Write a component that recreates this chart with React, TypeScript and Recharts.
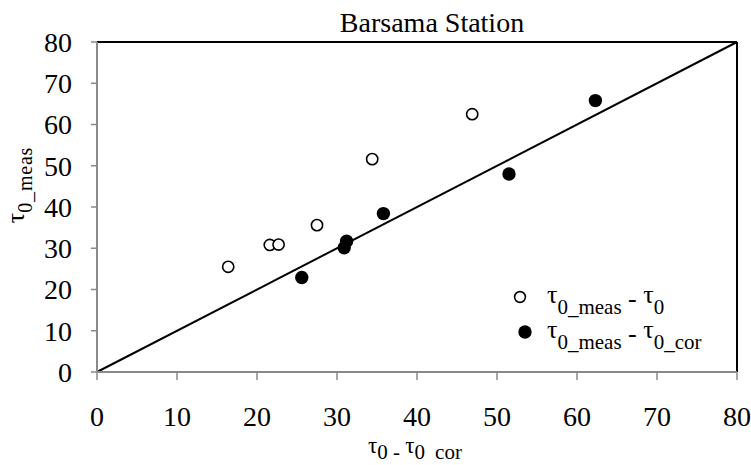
import { Legend, ReferenceLine, Scatter, ScatterChart, XAxis, YAxis } from "recharts";

const FONT = "Liberation Serif, Times New Roman, serif";
const AXIS_GREY = "#8a8a8a";

const title = "Barsama Station";
const axisTicks = [0, 10, 20, 30, 40, 50, 60, 70, 80];

// τ0_meas vs τ0 (open circles)
const measX = [16.4, 21.6, 22.7, 27.5, 34.4, 46.9];
const measY = [25.5, 30.8, 30.9, 35.6, 51.6, 62.5];

// τ0_meas vs τ0_cor (filled circles)
const corX = [25.6, 30.9, 31.2, 35.8, 51.5, 62.3];
const corY = [22.9, 30.1, 31.7, 38.4, 48.0, 65.8];

const measData = measX.map((x, i) => ({ x, y: measY[i] }));
const corData = corX.map((x, i) => ({ x, y: corY[i] }));

const OpenDot = (p: any) => (
  <circle cx={p.cx} cy={p.cy} r={5.6} fill="#fff" stroke="#000" strokeWidth={1.6} />
);
const FilledDot = (p: any) => <circle cx={p.cx} cy={p.cy} r={6.7} fill="#000" />;

const XLabel = (props: any) => {
  const vb = props.viewBox;
  const cx = vb.x + vb.width / 2 - 2;
  return (
    <text x={cx} y={vb.y + 81} textAnchor="middle" fontFamily={FONT} fontSize={23} fill="#000">
      <tspan>τ</tspan>
      <tspan dy={6} fontSize={21}>0 - </tspan>
      <tspan dy={-6}>τ</tspan>
      <tspan dy={6} fontSize={21}>0</tspan>
      <tspan dx={10} fontSize={21}>cor</tspan>
    </text>
  );
};

const YLabel = () => (
  <text
    x={24} y={185} textAnchor="middle" fontFamily={FONT} fontSize={26} fill="#000"
    transform="rotate(-90 24 185)"
  >
    <tspan>τ</tspan>
    <tspan dy={8} fontSize={20} letterSpacing={0.8}>0_meas</tspan>
  </text>
);

const LegendBox = () => (
  <svg width={250} height={80} style={{ display: "block", fontFamily: FONT }}>
    <circle cx={20} cy={17} r={5.4} fill="#fff" stroke="#000" strokeWidth={1.6} />
    <text x={47} y={23} fontFamily={FONT} fontSize={26} fill="#000">
      <tspan>τ</tspan>
      <tspan dy={11} fontSize={21}>0_meas</tspan>
      <tspan dy={-7}> - </tspan>
      <tspan dy={-4}>τ</tspan>
      <tspan dy={11} fontSize={21}>0</tspan>
    </text>
    <circle cx={25} cy={52} r={6.7} fill="#000" />
    <text x={47} y={58} fontFamily={FONT} fontSize={26} fill="#000">
      <tspan>τ</tspan>
      <tspan dy={11} fontSize={21}>0_meas</tspan>
      <tspan dy={-7}> - </tspan>
      <tspan dy={-4}>τ</tspan>
      <tspan dy={11} fontSize={21}>0_cor</tspan>
    </text>
  </svg>
);

export default function App() {
  return (
    <div
      style={{
        position: "relative", width: 751, height: 465, background: "#fff",
        fontFamily: FONT,
      }}
    >
      <style>{`body{margin:0}`}</style>
      <div
        style={{
          position: "absolute", left: 282, top: 9, width: 300, textAlign: "center",
          fontSize: 28, lineHeight: "28px", color: "#000",
        }}
      >
        {title}
      </div>
      <ScatterChart
        width={751} height={465} margin={{ top: 42, right: 14, bottom: 0, left: 0 }}
        style={{ fontFamily: FONT }}
      >
        <XAxis
          type="number" dataKey="x" domain={[0, 80]} ticks={axisTicks} interval={0}
          height={93} tickSize={8} tickMargin={26}
          axisLine={{ stroke: AXIS_GREY, strokeWidth: 2 }}
          tickLine={{ stroke: AXIS_GREY, strokeWidth: 1.5 }}
          tick={{ fill: "#000", fontSize: 28, fontFamily: FONT }}
          label={<XLabel />}
        />
        <YAxis
          type="number" dataKey="y" domain={[0, 80]} ticks={axisTicks} interval={0}
          width={97} tickSize={6} tickMargin={19}
          axisLine={{ stroke: AXIS_GREY, strokeWidth: 2 }}
          tickLine={{ stroke: AXIS_GREY, strokeWidth: 1.5 }}
          tick={{ fill: "#000", fontSize: 28, fontFamily: FONT }}
          label={<YLabel />}
        />
        <ReferenceLine y={80} stroke="#000" strokeWidth={2} />
        <ReferenceLine x={80} stroke="#000" strokeWidth={2} />
        <ReferenceLine
          segment={[{ x: 0, y: 0 }, { x: 80, y: 80 }]}
          stroke="#000" strokeWidth={2}
        />
        <Scatter data={measData} shape={OpenDot} isAnimationActive={false} />
        <Scatter data={corData} shape={FilledDot} isAnimationActive={false} />
        <Legend
          layout="horizontal" verticalAlign="middle" align="center"
          wrapperStyle={{ left: 500, top: 280, width: 250, height: 80 }}
          content={<LegendBox />}
        />
      </ScatterChart>
    </div>
  );
}
